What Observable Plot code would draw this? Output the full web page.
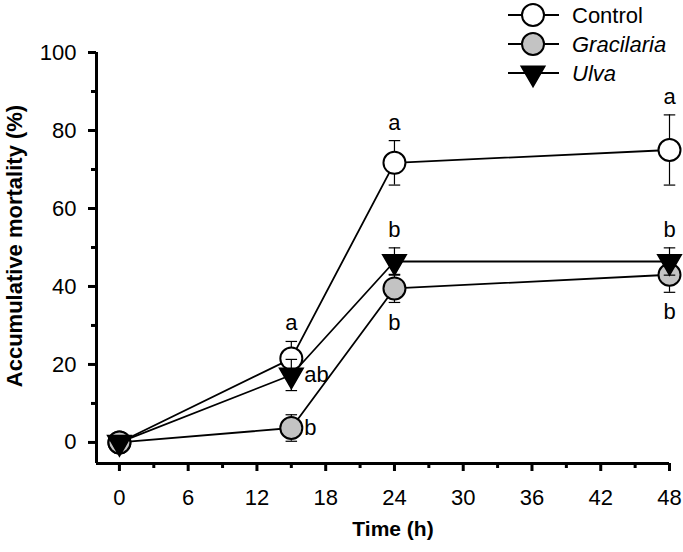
<!DOCTYPE html>
<html>
<head>
<meta charset="utf-8">
<script src="https://cdn.jsdelivr.net/npm/d3@7"></script>
<script src="https://cdn.jsdelivr.net/npm/@observablehq/plot@0.6"></script>
<style>
  body { margin: 0; background: #fff; }
  #wrap { position: relative; width: 683px; height: 552px; font-family: "Liberation Sans", Arial, sans-serif; }
  #legend { position: absolute; left: 500px; top: 0px; }
</style>
</head>
<body>
<div id="wrap">
  <div id="chart"></div>
  <svg id="legend" width="183" height="90"></svg>
</div>
<script>
// ---- data ----
const time = [0, 15, 24, 48];
const seriesNames = ["Control", "Gracilaria", "Ulva"];
const controlValues = [0, 21.5, 71.7, 75];
const controlErrors = [0, 4.4, 5.7, 9];
const gracilariaValues = [0, 3.7, 39.5, 43];
const gracilariaErrors = [0, 3.4, 3.6, 4.5];
const ulvaValues = [0, 17.3, 46.4, 46.4];
const ulvaErrors = [0, 4, 3.5, 3.5];
const controlLetters = ["", "a", "a", "a"];
const controlLetterPos = ["", "above", "above", "above"];
const gracilariaLetters = ["", "b", "b", "b"];
const gracilariaLetterPos = ["", "right", "below", "below"];
const ulvaLetters = ["", "ab", "b", "b"];
const ulvaLetterPos = ["", "right", "above", "above"];
const xMajorTicks = [0, 6, 12, 18, 24, 30, 36, 42, 48];
const xMinorTicks = [3, 9, 15, 21, 27, 33, 39, 45];
const yMajorTicks = [0, 20, 40, 60, 80, 100];
const yMinorTicks = [10, 30, 50, 70, 90];
const xTitle = "Time (h)";
const yTitle = "Accumulative mortality (%)";

// ---- styles ----
const FONT = "Liberation Sans, Arial, sans-serif";
const styles = {
  Control: {fill: "#ffffff", symbol: "circle"},
  Gracilaria: {fill: "#c3c3c3", symbol: "circle"},
  Ulva: {fill: "#000000", symbol: "triangle"}
};

const build = (name, vals, errs, letters, pos) =>
  time.map((t, i) => ({series: name, t, v: vals[i], e: errs[i], letter: letters[i], pos: pos[i]}));

const data = [
  build("Control", controlValues, controlErrors, controlLetters, controlLetterPos),
  build("Gracilaria", gracilariaValues, gracilariaErrors, gracilariaLetters, gracilariaLetterPos),
  build("Ulva", ulvaValues, ulvaErrors, ulvaLetters, ulvaLetterPos)
];

const capSymbol = {
  draw(context, size) {
    const w = Math.sqrt(size) / 2;
    context.moveTo(-w, 0);
    context.lineTo(w, 0);
  }
};

const marks = [];
for (const d of data) {
  marks.push(Plot.line(d, {x: "t", y: "v", stroke: "#000", strokeWidth: 1.8}));
}
for (const d of data) {
  const name = d[0].series;
  const withErr = d.filter(r => r.e > 0);
  marks.push(Plot.ruleX(withErr, {x: "t", y1: r => r.v - r.e, y2: r => r.v + r.e, stroke: "#000", strokeWidth: 1.2}));
  marks.push(Plot.dot(withErr, {x: "t", y: r => r.v + r.e, symbol: capSymbol, r: 6.5, stroke: "#000", strokeWidth: 1.2, fill: "none"}));
  marks.push(Plot.dot(withErr, {x: "t", y: r => r.v - r.e, symbol: capSymbol, r: 6.5, stroke: "#000", strokeWidth: 1.2, fill: "none"}));
  const st = styles[name];
  if (st.symbol === "triangle") {
    marks.push(Plot.dot(d, {x: "t", y: "v", symbol: "triangle", rotate: 180, r: 8.8, fill: st.fill, stroke: "#000", strokeWidth: 1.5}));
  } else {
    marks.push(Plot.dot(d, {x: "t", y: "v", symbol: "circle", r: 11, fill: st.fill, stroke: "#000", strokeWidth: 2}));
  }
}
for (const d of data) {
  const above = d.filter(r => r.pos === "above");
  const below = d.filter(r => r.pos === "below");
  const right = d.filter(r => r.pos === "right");
  const common = {text: "letter", fontSize: 22, fill: "#000", fontFamily: FONT};
  marks.push(Plot.text(above, {...common, x: "t", y: r => r.v + r.e, dy: -18, lineAnchor: "middle"}));
  marks.push(Plot.text(below, {...common, x: "t", y: r => r.v - r.e, dy: 20, lineAnchor: "middle"}));
  marks.push(Plot.text(right, {...common, x: "t", y: "v", dx: 13, textAnchor: "start", lineAnchor: "middle"}));
}
// axes
const xDomain = [-2, 48];
const yDomain = [-5.4, 100];
marks.push(Plot.ruleX([xDomain[0]], {y1: yDomain[0], y2: yDomain[1], stroke: "#000", strokeWidth: 3}));
marks.push(Plot.ruleY([yDomain[0]], {x1: xDomain[0], x2: 48, stroke: "#000", strokeWidth: 3}));
marks.push(Plot.axisX(xMajorTicks, {tickSize: 8, strokeWidth: 3, tickFormat: () => "", label: null}));
marks.push(Plot.axisX(xMinorTicks, {tickSize: 5, strokeWidth: 3, tickFormat: () => "", label: null}));
marks.push(Plot.axisY(yMajorTicks, {tickSize: 8, strokeWidth: 3, tickFormat: () => "", label: null}));
marks.push(Plot.axisY(yMinorTicks, {tickSize: 5, strokeWidth: 3, tickFormat: () => "", label: null}));
// tick labels
marks.push(Plot.text(xMajorTicks, {x: d => d, frameAnchor: "bottom", dy: 34, text: d => String(d), fontSize: 22, fill: "#000", fontFamily: FONT, lineAnchor: "middle"}));
marks.push(Plot.text(yMajorTicks, {y: d => d, frameAnchor: "left", dx: -20, text: d => String(d), fontSize: 22, fill: "#000", fontFamily: FONT, textAnchor: "end", lineAnchor: "middle"}));
// axis titles
marks.push(Plot.text([xTitle], {frameAnchor: "bottom", dx: 10, dy: 66, fontSize: 21, fontWeight: "bold", fill: "#000", fontFamily: FONT, textAnchor: "middle", lineAnchor: "middle"}));
marks.push(Plot.text([yTitle], {frameAnchor: "left", rotate: -90, dx: -82, dy: -12, fontSize: 22, fontWeight: "bold", fill: "#000", fontFamily: FONT, textAnchor: "middle", lineAnchor: "middle"}));

const chart = Plot.plot({
  width: 683,
  height: 552,
  marginLeft: 96,
  marginRight: 14,
  marginTop: 52,
  marginBottom: 89,
  x: {domain: xDomain},
  y: {domain: yDomain},
  style: {fontFamily: FONT, color: "#000", background: "#fff"},
  marks
});
document.getElementById("chart").appendChild(chart);

// ---- legend ----
const leg = d3.select("#legend");
const legendRows = seriesNames.map((n, i) => ({name: n, i}));
const rowY = i => 15 + i * 29;
const g = leg.selectAll("g").data(legendRows).join("g").attr("transform", d => `translate(0,${rowY(d.i)})`);
g.append("line").attr("x1", 8).attr("x2", 59).attr("y1", 0).attr("y2", 0).attr("stroke", "#000").attr("stroke-width", 1.8);
g.each(function(d) {
  const s = styles[d.name];
  const sel = d3.select(this);
  if (s.symbol === "triangle") {
    sel.append("path").attr("d", d3.symbol(d3.symbolTriangle, Math.PI * 8.8 * 8.8)()).attr("transform", "translate(33,0) rotate(180)")
      .attr("fill", s.fill).attr("stroke", "#000").attr("stroke-width", 1.5);
  } else {
    sel.append("circle").attr("cx", 33).attr("cy", 0).attr("r", 11).attr("fill", s.fill).attr("stroke", "#000").attr("stroke-width", 2);
  }
});
g.append("text").attr("x", 72).attr("y", 0).attr("dy", "0.35em")
  .attr("font-size", 22).attr("font-family", FONT)
  .attr("font-style", d => d.name === "Control" ? "normal" : "italic")
  .text(d => d.name);
</script>
</body>
</html>
